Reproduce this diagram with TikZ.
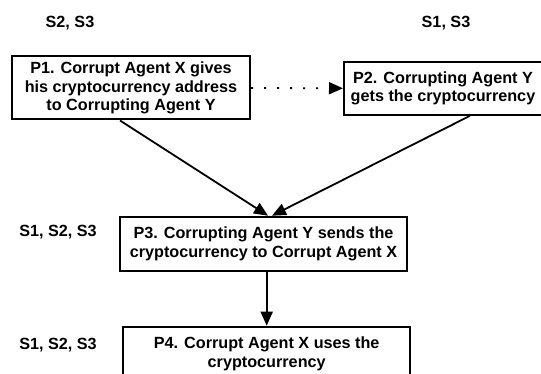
\documentclass[tikz,border=0pt]{standalone}
\usepackage{fontspec}
\setmainfont{Liberation Sans}
\usetikzlibrary{arrows.meta}
\begin{document}
\begin{tikzpicture}[x=1pt, y=-1pt, line cap=butt, line join=miter,
  font=\fontsize{16.2}{18.4}\selectfont\bfseries,
  stepbox/.style={draw, line width=2pt, align=center, inner sep=2pt},
  flow/.style={line width=1.8pt, -{Triangle[length=14pt, width=12pt]}},
  tag/.style={inner sep=0pt}]
  \useasboundingbox (0,0) rectangle (541,374);
  \clip (0,0) rectangle (541,374);

  % passi
  \node[stepbox, minimum width=238pt, minimum height=63pt] (P1) at (131,88)
    {P1. Corrupt Agent X gives\\his cryptocurrency address\\to Corrupting Agent Y};
  \node[stepbox, minimum width=198pt, minimum height=53pt] (P2) at (443,88.3)
    {P2. Corrupting Agent Y\\gets the cryptocurrency};
  \node[stepbox, minimum width=287pt, minimum height=54pt] (P3) at (263.5,243.7)
    {P3. Corrupting Agent Y sends the\\cryptocurrency to Corrupt Agent X};
  \node[stepbox, minimum width=287pt, minimum height=54pt] (P4) at (266.7,353.7)
    {P4. Corrupt Agent X uses the\\cryptocurrency};

  % etichette
  \node[tag] (L1) at (70,23) {S2, S3};
  \node[tag] (L2) at (446,23) {S1, S3};
  \node[tag] (L3) at (58,232) {S1, S2, S3};
  \node[tag] (L4) at (58,345) {S1, S2, S3};

  % frecce
  \draw[flow, dash pattern=on 2pt off 11pt] (P1.east) -- (P2.west);
  \draw[flow] ([xshift=-11pt]P1.south) -- ([xshift=4.5pt]P3.north);
  \draw[flow] ([xshift=27pt]P2.south) -- ([xshift=8.5pt]P3.north);
  \draw[flow] ([xshift=3.2pt]P3.south) -- (P4.north);
\end{tikzpicture}
\end{document}
